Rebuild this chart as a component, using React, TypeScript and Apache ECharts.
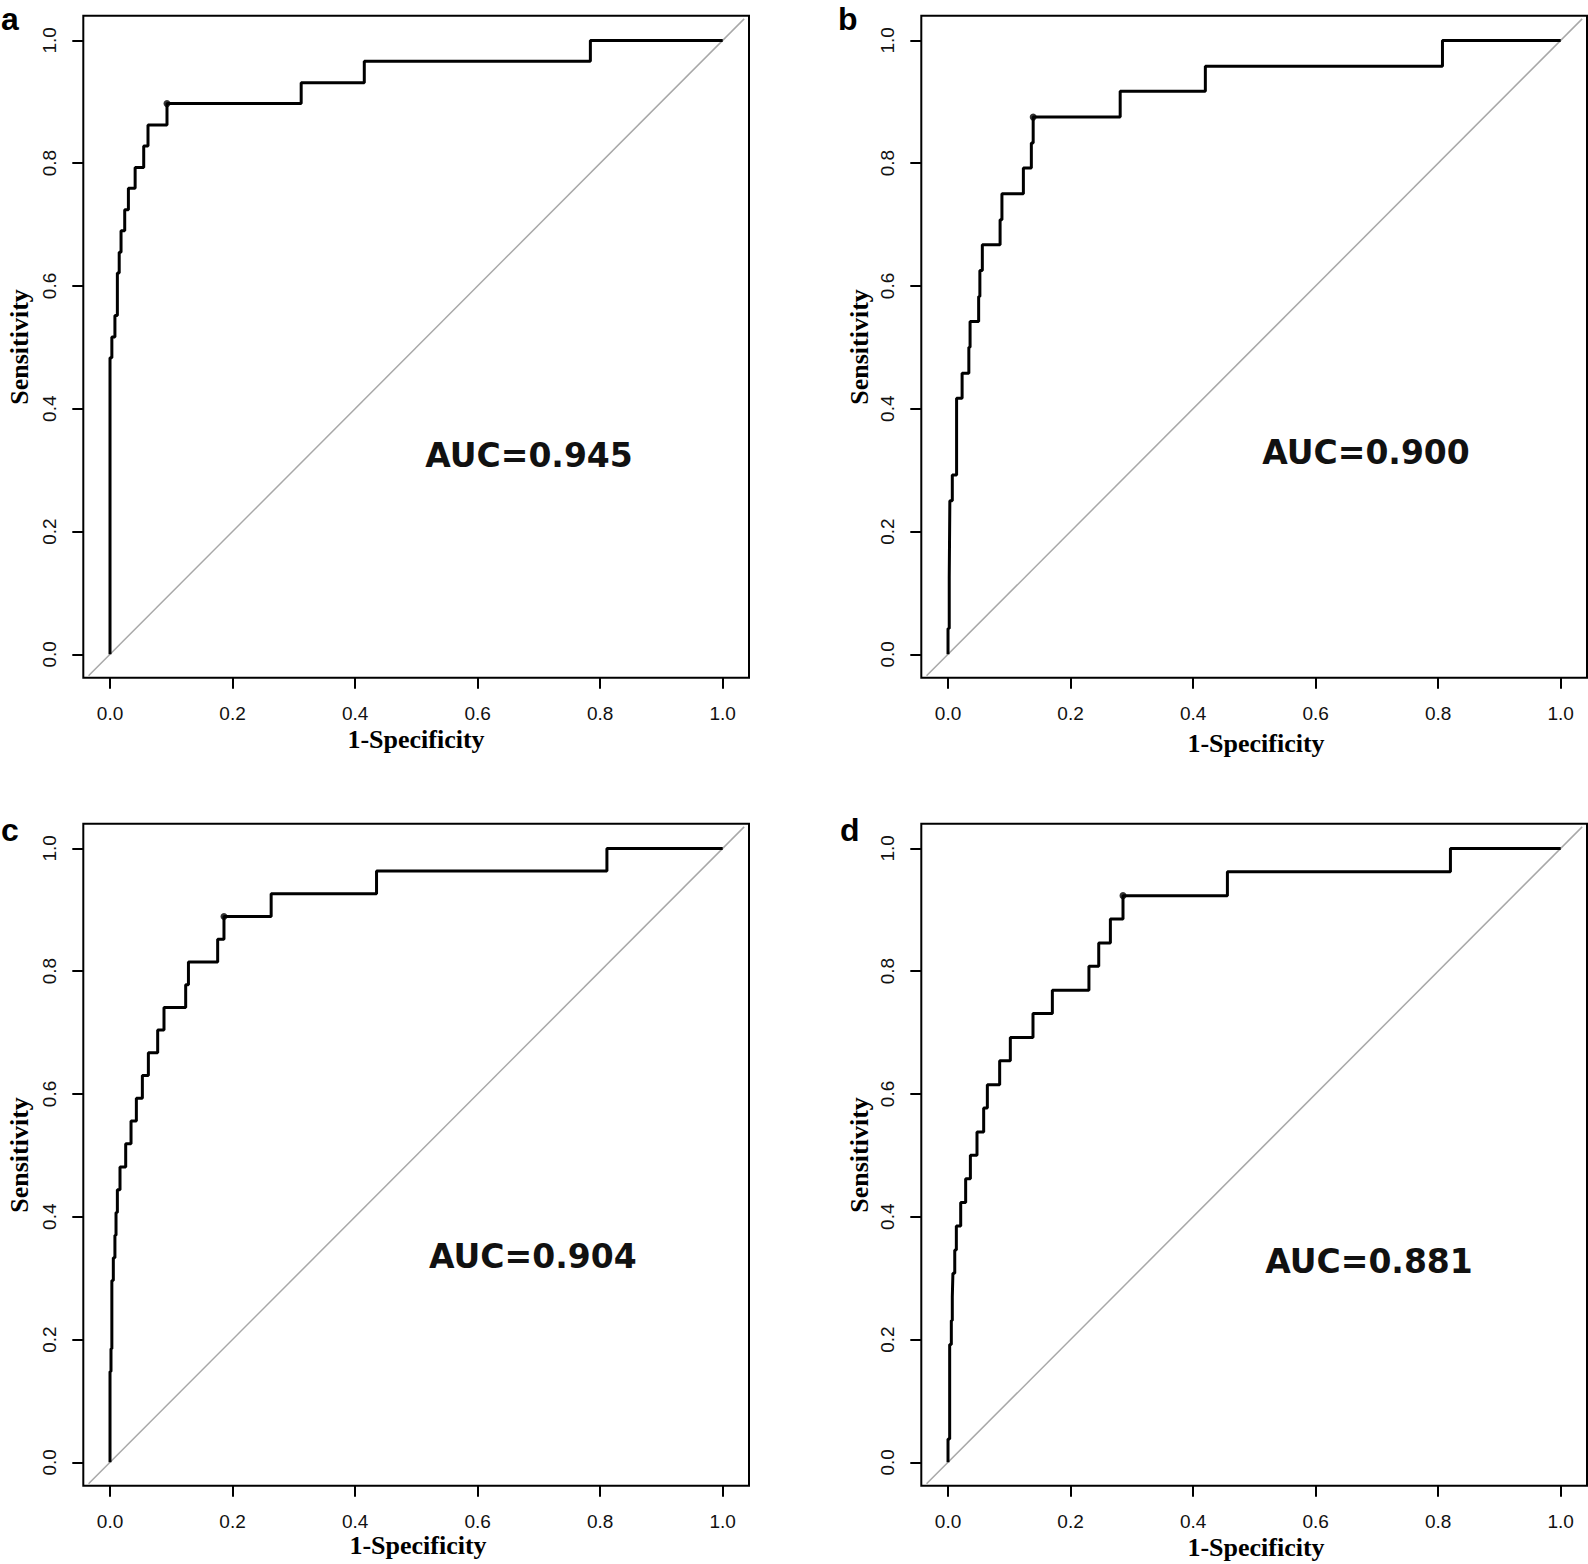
import React, { useEffect, useRef } from "react";
import * as echarts from "echarts";

// ---- data ----
const TICKS = [0, 0.2, 0.4, 0.6, 0.8, 1.0];
const PANEL_LETTERS = ["a", "b", "c", "d"];
const AUC_LABELS = ["AUC=0.945", "AUC=0.900", "AUC=0.904", "AUC=0.881"];
const X_TITLE = "1-Specificity";
const Y_TITLE = "Sensitivity";

// ROC vertices (1-specificity, sensitivity), drawn as steps
const fprA = [0, 0, 0.003, 0.008, 0.012, 0.015, 0.018, 0.024, 0.03, 0.041, 0.055, 0.062, 0.093, 0.312, 0.415, 0.784, 1.0];
const tprA = [0, 0.483, 0.517, 0.552, 0.621, 0.655, 0.69, 0.724, 0.759, 0.793, 0.828, 0.862, 0.897, 0.931, 0.966, 1.0, 1.0];
const cutA = [0.093, 0.897];

const fprB = [0, 0, 0.002, 0.003, 0.007, 0.014, 0.023, 0.034, 0.036, 0.05, 0.052, 0.056, 0.085, 0.088, 0.123, 0.136, 0.139, 0.281, 0.42, 0.807, 1.0];
const tprB = [0, 0.042, 0.125, 0.25, 0.292, 0.417, 0.458, 0.5, 0.542, 0.583, 0.625, 0.667, 0.708, 0.75, 0.792, 0.833, 0.875, 0.917, 0.958, 1.0, 1.0];
const cutB = [0.139, 0.875];

const fprC = [0, 0, 0.0016, 0.003, 0.0054, 0.008, 0.0098, 0.012, 0.0163, 0.0256, 0.0343, 0.043, 0.0528, 0.0626, 0.0778, 0.0881, 0.1235, 0.128, 0.1757, 0.186, 0.263, 0.435, 0.811, 1.0];
const tprC = [0, 0.148, 0.185, 0.296, 0.333, 0.37, 0.407, 0.444, 0.481, 0.519, 0.556, 0.593, 0.63, 0.667, 0.704, 0.741, 0.778, 0.815, 0.852, 0.889, 0.926, 0.963, 1.0, 1.0];
const cutC = [0.186, 0.889];

const fprD = [0, 0, 0.0027, 0.0054, 0.007, 0.008, 0.011, 0.0136, 0.0207, 0.0288, 0.0365, 0.0473, 0.0582, 0.0642, 0.0843, 0.1017, 0.1387, 0.1703, 0.23, 0.246, 0.265, 0.2856, 0.456, 0.82, 1.0];
const tprD = [0, 0.038, 0.192, 0.231, 0.269, 0.308, 0.346, 0.385, 0.423, 0.462, 0.5, 0.538, 0.577, 0.615, 0.654, 0.692, 0.731, 0.769, 0.808, 0.846, 0.885, 0.923, 0.962, 1.0, 1.0];
const cutD = [0.2856, 0.923];

const DIAG = [-0.035, 1.035];

const FPRS = [fprA, fprB, fprC, fprD];
const TPRS = [tprA, tprB, tprC, tprD];
const CUTS = [cutA, cutB, cutC, cutD];

// ---- layout ----
const W = 1588;
const H = 1564;
const BOX_L = 83.3;
const BOX_T = 15.7;
const BOX_W = 665.7;
const BOX_H = 662;
const DX = 838;
const DY = 808;
const X_MIN = -0.0436;
const X_MAX = 1.0429;
const Y_MIN = -0.0381;
const Y_MAX = 1.0402;

const AUC_POS = [
  [529, 455.6],
  [1366, 452.7],
  [532.8, 1256.5],
  [1369, 1261.5],
];
const XT_POS = [
  [416, 739.5],
  [1256, 743.5],
  [418, 1545],
  [1256, 1547.5],
];
const YT_POS = [
  [19, 347],
  [859, 347],
  [19, 1155],
  [859, 1155],
];
const LETTER_POS = [
  [1, 19],
  [838, 19],
  [1, 830],
  [840, 830],
];

export default function App() {
  const ref = useRef<HTMLDivElement>(null);

  useEffect(() => {
    document.body.style.margin = "0";
    if (!ref.current) return;
    const chart = echarts.init(ref.current, undefined, { renderer: "svg" });

    const grids: any[] = [];
    const xAxes: any[] = [];
    const yAxes: any[] = [];
    const series: any[] = [];
    const graphics: any[] = [];

    for (let i = 0; i < 4; i++) {
      const col = i % 2;
      const row = Math.floor(i / 2);
      grids.push({
        left: BOX_L + col * DX,
        top: BOX_T + row * DY,
        width: BOX_W,
        height: BOX_H,
        show: true,
        borderColor: "#000",
        borderWidth: 2,
        backgroundColor: "transparent",
        containLabel: false,
      });
      const tickCommon = {
        show: true,
        inside: false,
        length: 11,
        lineStyle: { color: "#000", width: 2 },
        customValues: TICKS,
      };
      const labelCommon = {
        show: true,
        customValues: TICKS,
        formatter: (v: number) => v.toFixed(1),
        fontFamily: "Liberation Sans",
        fontSize: 19,
        color: "#111",
        margin: 24,
      };
      xAxes.push({
        type: "value",
        gridIndex: i,
        position: "bottom",
        min: X_MIN,
        max: X_MAX,
        axisLine: { show: false, onZero: false },
        axisTick: tickCommon,
        axisLabel: { ...labelCommon, margin: 26 },
        splitLine: { show: false },
      });
      yAxes.push({
        type: "value",
        gridIndex: i,
        position: "left",
        min: Y_MIN,
        max: Y_MAX,
        axisLine: { show: false, onZero: false },
        axisTick: tickCommon,
        axisLabel: { ...labelCommon, rotate: 90 },
        splitLine: { show: false },
      });

      series.push({
        type: "line",
        xAxisIndex: i,
        yAxisIndex: i,
        data: [
          [DIAG[0], DIAG[0]],
          [DIAG[1], DIAG[1]],
        ],
        showSymbol: false,
        lineStyle: { color: "#a8a8a8", width: 1.5 },
        silent: true,
        clip: true,
        z: 1,
      });
      series.push({
        type: "line",
        xAxisIndex: i,
        yAxisIndex: i,
        step: "end",
        data: FPRS[i].map((x, k) => [x, TPRS[i][k]]),
        showSymbol: false,
        lineStyle: { color: "#000", width: 3 },
        clip: true,
        z: 3,
      });
      series.push({
        type: "scatter",
        xAxisIndex: i,
        yAxisIndex: i,
        data: [CUTS[i]],
        symbol: "circle",
        symbolSize: 7,
        itemStyle: { color: "#000" },
        z: 4,
      });

      graphics.push({
        type: "text",
        x: AUC_POS[i][0],
        y: AUC_POS[i][1],
        style: {
          text: AUC_LABELS[i],
          fontFamily: "DejaVu Sans",
          fontWeight: "bold",
          fontSize: 33,
          fill: "#111",
          textAlign: "center",
          textVerticalAlign: "middle",
        },
      });
      graphics.push({
        type: "text",
        x: XT_POS[i][0],
        y: XT_POS[i][1],
        style: {
          text: X_TITLE,
          fontFamily: "Liberation Serif",
          fontWeight: "bold",
          fontSize: 26,
          fill: "#000",
          textAlign: "center",
          textVerticalAlign: "middle",
        },
      });
      graphics.push({
        type: "text",
        x: YT_POS[i][0],
        y: YT_POS[i][1],
        rotation: Math.PI / 2,
        style: {
          text: Y_TITLE,
          fontFamily: "Liberation Serif",
          fontWeight: "bold",
          fontSize: 26,
          fill: "#000",
          textAlign: "center",
          textVerticalAlign: "middle",
        },
      });
      graphics.push({
        type: "text",
        x: LETTER_POS[i][0],
        y: LETTER_POS[i][1],
        style: {
          text: PANEL_LETTERS[i],
          fontFamily: "Liberation Sans",
          fontWeight: "bold",
          fontSize: 32,
          lineHeight: 32,
          fill: "#000",
          textAlign: "left",
          textVerticalAlign: "middle",
        },
      });
    }

    chart.setOption({
      animation: false,
      backgroundColor: "#fff",
      grid: grids,
      xAxis: xAxes,
      yAxis: yAxes,
      series,
      graphic: graphics,
    });

    return () => {
      chart.dispose();
    };
  }, []);

  return (
    <div
      ref={ref}
      style={{ position: "absolute", left: 0, top: 0, width: W, height: H }}
    />
  );
}
